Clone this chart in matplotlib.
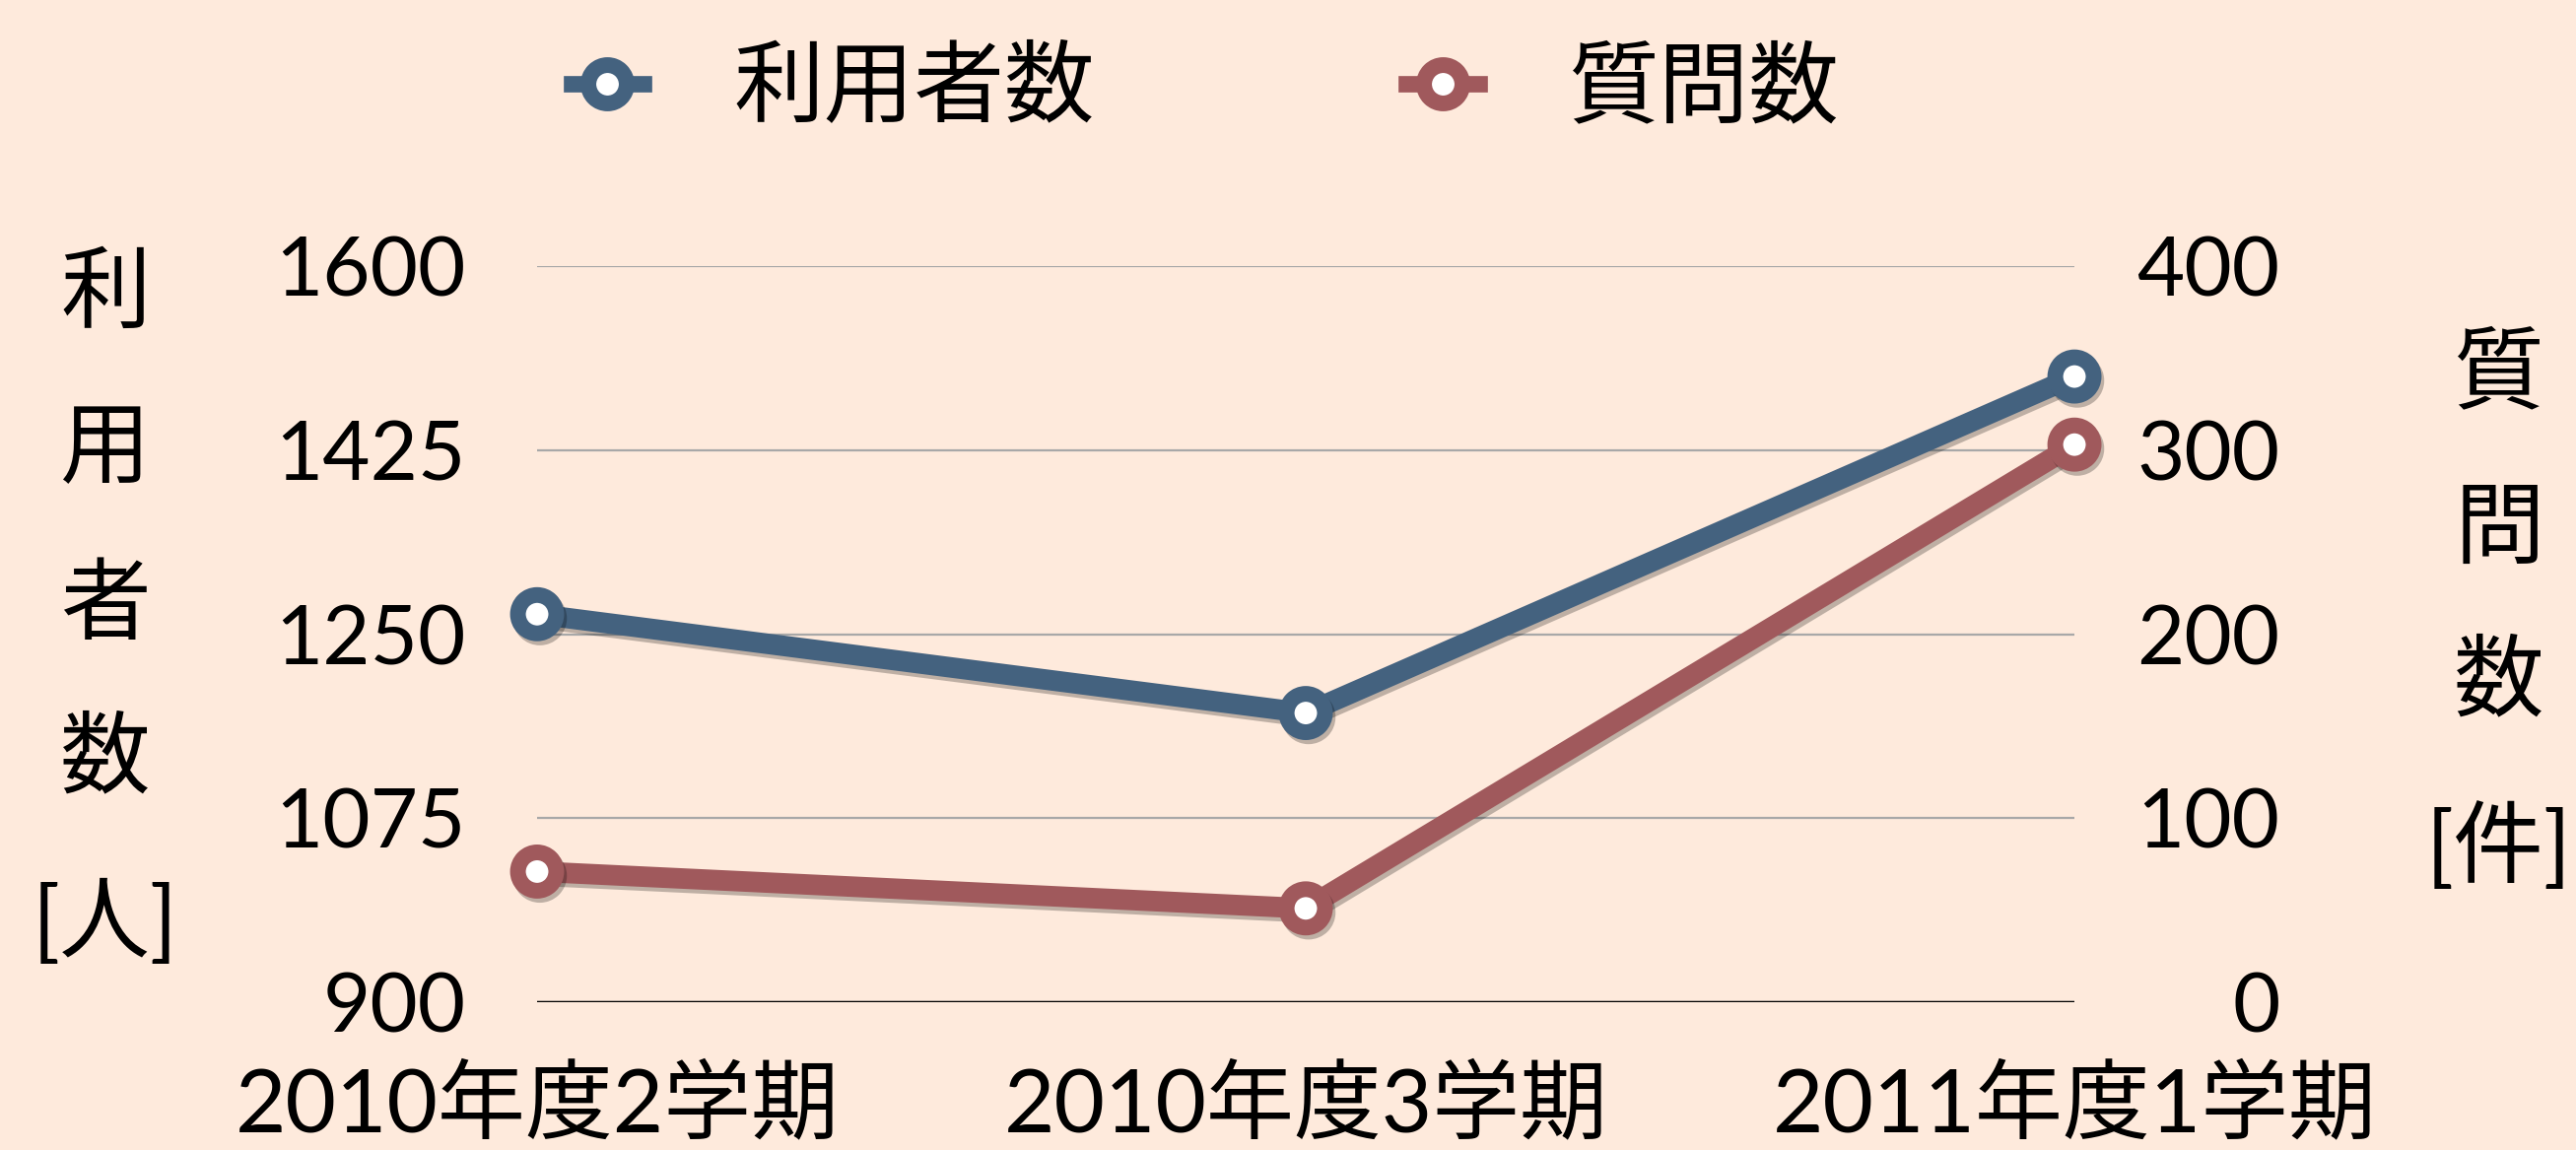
import matplotlib
matplotlib.use("Agg")
import matplotlib.pyplot as plt
import matplotlib.patheffects as pe

plt.rcParams['font.family'] = ['Lato', 'Noto Sans CJK JP', 'DejaVu Sans']

terms = ["2010年度2学期", "2010年度3学期", "2011年度1学期"]
users = [1269, 1175, 1495]
questions = [71, 51, 303]
user_ticks = [900, 1075, 1250, 1425, 1600]
question_ticks = [0, 100, 200, 300, 400]

bg = "#FEEADC"
blue = "#44627F"
red = "#A0595C"
fs_tick = 60
fs_x = 64
fs_cjk = 66

fig = plt.figure(figsize=(26.14, 11.67), dpi=100, facecolor=bg)
ax = fig.add_axes([0.2085, 0.1285, 0.5968, 0.6401])
ax.set_facecolor(bg)
ax2 = ax.twinx()

shadow = [pe.SimpleLineShadow(offset=(2, -3), alpha=0.25), pe.Normal()]
x = list(range(len(terms)))
l1, = ax.plot(x, users, color=blue, lw=15, marker='o', ms=28, mew=11.5,
              mfc='white', mec=blue, clip_on=False, zorder=5,
              path_effects=shadow, label="利用者数")
l2, = ax2.plot(x, questions, color=red, lw=15, marker='o', ms=28, mew=11.5,
               mfc='white', mec=red, clip_on=False, zorder=5,
               path_effects=shadow, label="質問数")

ax.set_xlim(0, 2)
ax.set_ylim(900, 1600)
ax2.set_ylim(0, 400)
ax.set_yticks(user_ticks)
ax2.set_yticks(question_ticks)
ax.set_xticks(x)
ax.set_xticklabels(terms)

for a in (ax, ax2):
    for s in a.spines.values():
        s.set_visible(False)
ax.grid(axis='y', color='#A8A8A8', lw=1.6)
ax.axhline(900, color='black', lw=2.5, zorder=3)
ax.set_axisbelow(True)

ax.tick_params(axis='y', length=0, pad=52, labelsize=fs_tick)
ax.tick_params(axis='x', length=0, pad=46, labelsize=fs_x)
ax2.tick_params(axis='y', length=0, pad=150, labelsize=fs_tick)
for t in ax2.get_yticklabels():
    t.set_horizontalalignment('right')

leg = fig.legend(handles=[l1, l2], loc='center', bbox_to_anchor=(0.468, 0.922),
                 ncol=2, frameon=False, fontsize=fs_cjk, handlelength=0.8,
                 handletextpad=1.0, columnspacing=3.45, markerscale=1.0)
for h in leg.legend_handles:
    h.set_path_effects([])
    h.set_linewidth(12)

left_chars = ["利", "用", "者", "数", "[人]"]
left_y = [300, 458, 616, 771, 937]
for c, yy in zip(left_chars, left_y):
    fig.text(107 / 2614, 1 - yy / 1167, c, fontsize=fs_cjk, ha='center', va='center')

right_chars = ["質", "問", "数", "[件]"]
right_y = [381, 539, 693, 860]
for c, yy in zip(right_chars, right_y):
    fig.text(2536 / 2614, 1 - yy / 1167, c, fontsize=fs_cjk, ha='center', va='center')

fig.savefig("out.png", dpi=100, facecolor=bg)
